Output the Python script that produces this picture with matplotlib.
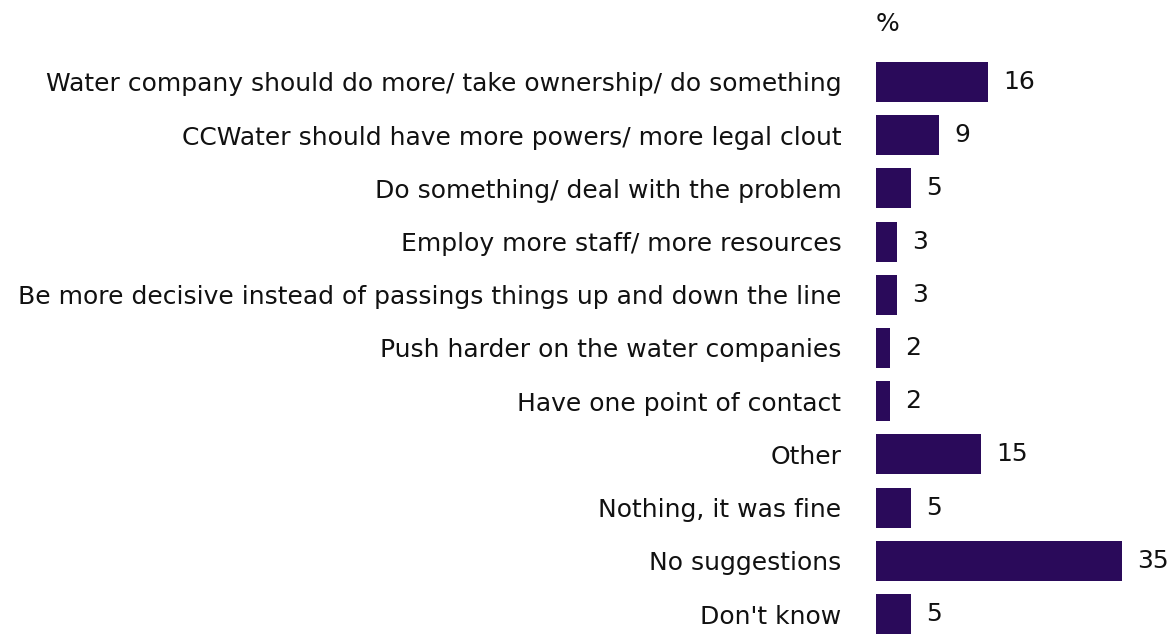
import numpy as np
import matplotlib.pyplot as plt

categories = [
    "Water company should do more/ take ownership/ do something",
    "CCWater should have more powers/ more legal clout",
    "Do something/ deal with the problem",
    "Employ more staff/ more resources",
    "Be more decisive instead of passings things up and down the line",
    "Push harder on the water companies",
    "Have one point of contact",
    "Other",
    "Nothing, it was fine",
    "No suggestions",
    "Don't know",
]
values = [16, 9, 5, 3, 3, 2, 2, 15, 5, 35, 5]

bar_color = "#2A0A5A"
txt_color = "#111111"
fs = 18

fig = plt.figure(figsize=(11.71, 6.34), dpi=100)
ax = fig.add_axes([876 / 1171, 0, 295 / 1171, 1])

y = np.arange(len(categories))
ax.barh(y, values, height=0.75, color=bar_color)

ax.set_xlim(0, 295 / 7.03)
ax.set_ylim((634 - 82) / 53.2, -82 / 53.2)

ax.set_yticks(y)
ax.set_yticklabels(categories, fontsize=fs, color=txt_color)
ax.tick_params(axis="y", length=0, pad=25)
ax.set_xticks([])
for s in ax.spines.values():
    s.set_visible(False)

for yi, v in zip(y, values):
    ax.text(v + 15 / 7.03, yi, str(v), va="center", ha="left",
            fontsize=fs, color=txt_color)

ax.text(0, (24 - 82) / 53.2, "%", va="center", ha="left",
        fontsize=fs, color=txt_color)

fig.savefig("out.png", dpi=100)
